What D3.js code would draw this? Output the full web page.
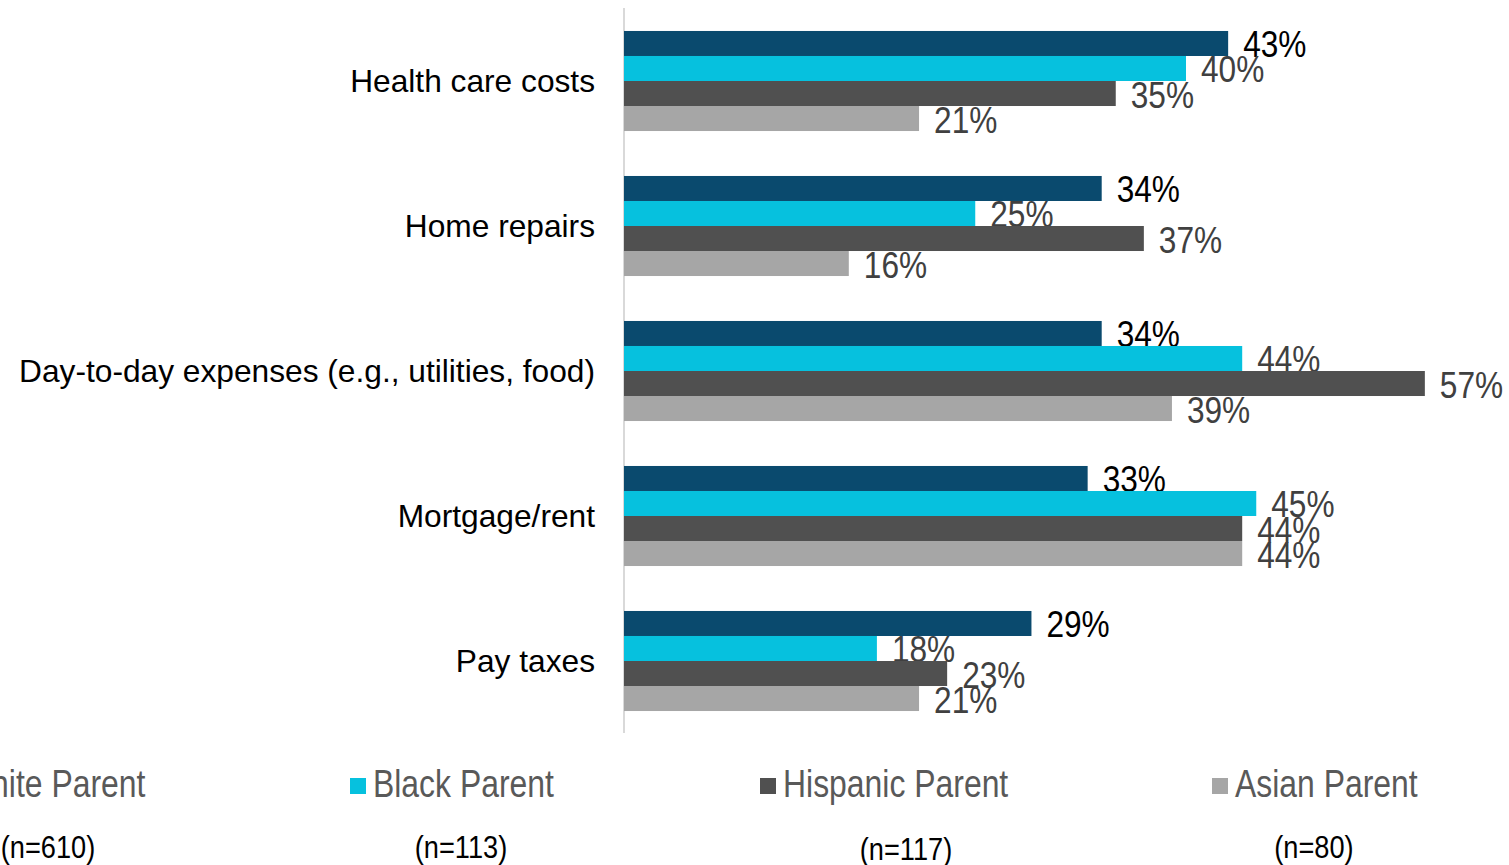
<!DOCTYPE html>
<html>
<head>
<meta charset="utf-8">
<script src="https://cdn.jsdelivr.net/npm/d3@7/dist/d3.min.js"></script>
<style>
  html, body { margin: 0; padding: 0; background: #fff; overflow: hidden; }
  svg { display: block; }
  .narrow { font-family: "Liberation Sans", Arial, sans-serif; }
</style>
</head>
<body>
<svg id="chart" width="1509" height="865"></svg>
<script>
const categories = ["Health care costs", "Home repairs", "Day-to-day expenses (e.g., utilities, food)", "Mortgage/rent", "Pay taxes"];
const seriesNames = ["White Parent", "Black Parent", "Hispanic Parent", "Asian Parent"];
const sampleSizes = ["(n=610)", "(n=113)", "(n=117)", "(n=80)"];
const whiteParent    = [43, 34, 34, 33, 29];
const blackParent    = [40, 25, 44, 45, 18];
const hispanicParent = [35, 37, 57, 44, 23];
const asianParent    = [21, 16, 39, 44, 21];
const seriesValues = [whiteParent, blackParent, hispanicParent, asianParent];

const colors = ["#0a4a6e", "#06c1de", "#505050", "#a6a6a6"];
const labelColors = ["#000000", "#404040", "#404040", "#404040"];
const NARROW = 0.855;

const svg = d3.select("#chart");

const x = d3.scaleLinear().domain([0, 60]).range([624, 624 + 843]);
const y = d3.scaleBand().domain(categories).range([8.5, 733.5]).paddingInner(0.31).paddingOuter(0.155);
const ySub = d3.scaleBand().domain(seriesNames).range([0, y.bandwidth()]);

// axis line
svg.append("line")
  .attr("x1", x(0)).attr("x2", x(0))
  .attr("y1", 8).attr("y2", 733)
  .attr("stroke", "#d9d9d9").attr("stroke-width", 2);

// category labels
svg.append("g").selectAll("text").data(categories).join("text")
  .attr("x", 595)
  .attr("y", d => y(d) + y.bandwidth() / 2 + 11)
  .attr("text-anchor", "end")
  .attr("font-family", "'Liberation Sans', Arial, sans-serif")
  .attr("font-size", 31.7)
  .attr("fill", "#000")
  .text(d => d);

// bars and labels
seriesNames.forEach((s, si) => {
  const g = svg.append("g");
  const data = categories.map((c, ci) => ({ c, v: seriesValues[si][ci] }));
  g.selectAll("rect").data(data).join("rect")
    .attr("x", x(0))
    .attr("y", d => y(d.c) + ySub(s))
    .attr("width", d => x(d.v) - x(0))
    .attr("height", ySub.bandwidth())
    .attr("fill", colors[si]);
  g.selectAll("text").data(data).join("text")
    .attr("class", "narrow")
    .attr("transform", d => `translate(${x(d.v) + 15},${y(d.c) + ySub(s) + ySub.bandwidth() / 2 + 14}) scale(${NARROW},1)`)
    .attr("font-size", 37)
    .attr("fill", labelColors[si])
    .text(d => d.v + "%");
});

// legend
const legendSquareX = [-62, 350, 760, 1212];
const lg = svg.append("g");
seriesNames.forEach((s, i) => {
  lg.append("rect")
    .attr("x", legendSquareX[i]).attr("y", 778)
    .attr("width", 16).attr("height", 16)
    .attr("fill", colors[i]);
  lg.append("text")
    .attr("class", "narrow")
    .attr("transform", `translate(${legendSquareX[i] + 23},797) scale(0.84,1)`)
    .attr("font-size", 38)
    .attr("fill", "#595959")
    .text(s);
});

// sample sizes
const nCenters = [48, 461, 906, 1314];
const nBaselines = [858, 858, 860, 858];
svg.append("g").selectAll("text").data(sampleSizes).join("text")
  .attr("class", "narrow")
  .attr("transform", (d, i) => `translate(${nCenters[i]},${nBaselines[i]}) scale(0.85,1)`)
  .attr("text-anchor", "middle")
  .attr("font-size", 32)
  .attr("fill", "#000")
  .text(d => d);
</script>
</body>
</html>
